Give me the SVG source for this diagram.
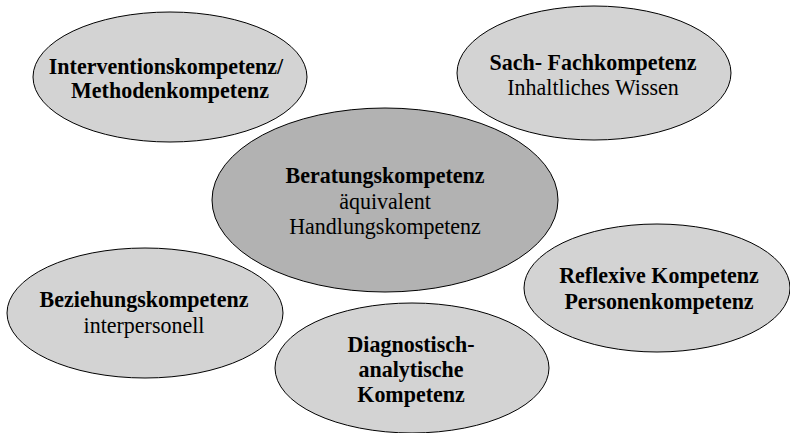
<svg xmlns="http://www.w3.org/2000/svg" width="790" height="433" viewBox="0 0 790 433">
<style>
.n{fill:#d3d3d3;stroke:#000;stroke-width:1}
.c{fill:#b2b2b2;stroke:#000;stroke-width:1}
text{font-family:"Liberation Serif","Times New Roman",serif;font-size:22px;fill:#000;text-anchor:middle}
.b{font-weight:bold}
</style>
<rect width="790" height="433" fill="#fff"/>
<g id="interventions"><ellipse class="n" cx="170" cy="77" rx="137" ry="65"/><text class="b" transform="translate(166,74) scale(1,1.08)">Interventionskompetenz/</text><text class="b" transform="translate(170,98) scale(1,1.08)">Methodenkompetenz</text></g>
<g id="sach"><ellipse class="n" cx="594" cy="73" rx="137" ry="67"/><text class="b" transform="translate(593,70) scale(1,1.08)">Sach- Fachkompetenz</text><text transform="translate(593,95) scale(1,1.08)">Inhaltliches Wissen</text></g>
<g id="beratung"><ellipse class="c" cx="385" cy="200" rx="173" ry="92"/><text class="b" transform="translate(385,183) scale(1,1.08)">Beratungskompetenz</text><text transform="translate(385,209) scale(1,1.08)">äquivalent</text><text transform="translate(385,234) scale(1,1.08)">Handlungskompetenz</text></g>
<g id="beziehung"><ellipse class="n" cx="145" cy="313" rx="138" ry="65"/><text class="b" transform="translate(144,307) scale(1,1.08)">Beziehungskompetenz</text><text transform="translate(144,333) scale(1,1.08)">interpersonell</text></g>
<g id="diagnostisch"><ellipse class="n" cx="412" cy="368" rx="137" ry="65"/><text class="b" transform="translate(411,352) scale(1,1.08)">Diagnostisch-</text><text class="b" transform="translate(411,377) scale(1,1.08)">analytische</text><text class="b" transform="translate(411,402) scale(1,1.08)">Kompetenz</text></g>
<g id="reflexiv"><ellipse class="n" cx="657" cy="288" rx="133" ry="64"/><text class="b" transform="translate(659,283) scale(1,1.08)">Reflexive Kompetenz</text><text class="b" transform="translate(659,309) scale(1,1.08)">Personenkompetenz</text></g>
<g id="connectors"></g>
</svg>
